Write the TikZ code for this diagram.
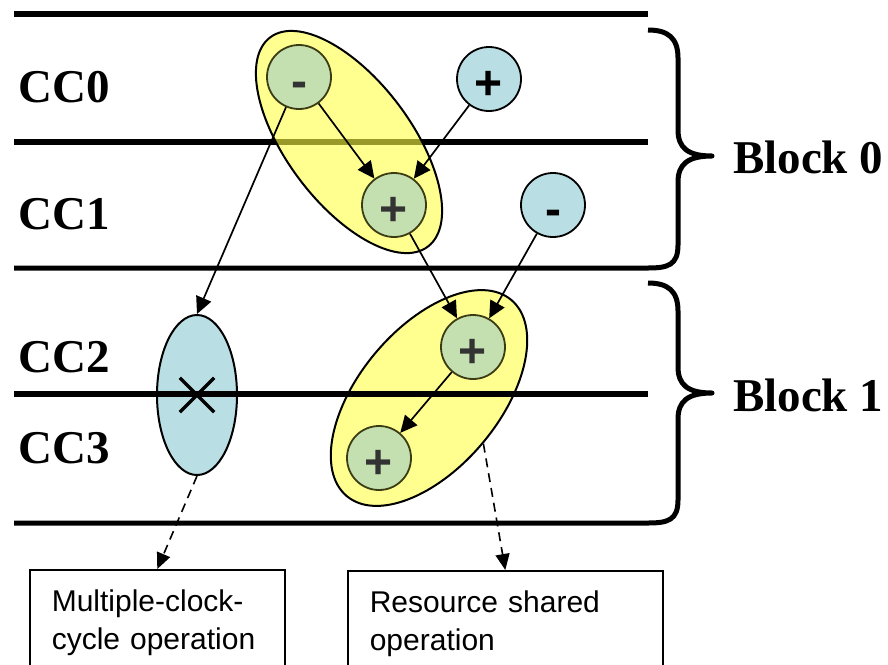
\documentclass[tikz,border=0pt]{standalone}
\usepackage{fontspec}
\setmainfont{Liberation Serif}
\newfontfamily\arialfont{Liberation Sans}
\usetikzlibrary{arrows.meta,shapes.geometric,shapes.misc}

\definecolor{opblue}{RGB}{185,223,228}
\definecolor{shareyellow}{RGB}{255,255,70}
\definecolor{opgreen}{RGB}{196,224,176}
\definecolor{olivedark}{RGB}{60,60,20}

\begin{document}
\begin{tikzpicture}[x=1pt,y=-1pt,
  rail/.style={line width=5.5pt},
  bracepath/.style={line width=5pt, line join=round},
  cclabel/.style={anchor=base west, inner sep=0pt,
    font=\fontsize{47}{50}\selectfont\bfseries},
  opnode/.style={circle, draw, line width=1.8pt, fill=opblue,
    minimum size=64pt, inner sep=0pt, text height=46pt, text depth=5pt,
    font=\arialfont\bfseries\fontsize{48}{48}\selectfont},
  sharednode/.style={opnode, fill=opgreen, draw=olivedark, text=black!80},
  sharegroup/.style={ellipse, draw, line width=2pt, fill=shareyellow,
    fill opacity=0.6, draw opacity=1, inner sep=0pt},
  multigroup/.style={ellipse, draw, line width=2pt, fill=opblue,
    inner sep=0pt, minimum width=80pt, minimum height=160pt},
  flow/.style={-{Triangle[length=17pt,width=16pt]}, line width=1.7pt},
  note/.style={-{Triangle[length=16pt,width=14pt]}, line width=1.6pt,
    dash pattern=on 9pt off 6pt},
  notebox/.style={draw, rectangle, line width=1.6pt, anchor=north west,
    align=left, inner xsep=22pt, inner ysep=20pt, text depth=80pt,
    font=\arialfont\fontsize{30}{38}\selectfont}
]
\useasboundingbox (0,0) rectangle (888,664);

% clock-cycle boundary that runs underneath the first shared group
\draw[rail] (14,142) -- (648,142);

% resource-sharing groups and the multi-cycle operation
\node[sharegroup, minimum width=262pt, minimum height=124pt, rotate=-53] (e1) at (349,142) {};
\node[sharegroup, minimum width=256pt, minimum height=140pt, rotate=50] (e2) at (429,398) {};
\node[multigroup] (mc) at (197,395) {};

% remaining cycle boundaries
\draw[rail] (14,14) -- (648,14);
\draw[rail] (14,394) -- (648,394);

% braces grouping the cycles into blocks
\draw[bracepath] (648,30) .. controls (668,30) and (678,38) .. (678,58)
  -- (678,130) .. controls (678,148) and (688,156) .. (712,156)
  .. controls (688,156) and (678,164) .. (678,182)
  -- (678,245) .. controls (678,265) and (668,268) .. (648,268) -- (14,268);
\draw[bracepath] (648,283) .. controls (668,283) and (678,291) .. (678,311)
  -- (678,367) .. controls (678,385) and (688,393) .. (712,393)
  .. controls (688,393) and (678,401) .. (678,419)
  -- (678,500) .. controls (678,520) and (668,523) .. (648,523) -- (14,523);

% multiplier mark
\node[cross out, draw, line width=3.4pt, minimum size=31pt, inner sep=0pt] (xmark) at (mc) {};

% operations
\node[sharednode] (g0m) at (299,77) {-};
\node[opnode] (b0p) at (489,79) {+};
\node[sharednode] (g1p) at (394,205) {+};
\node[opnode] (b1m) at (553,205) {-};
\node[sharednode] (g2p) at (473,347) {+};
\node[sharednode] (g3p) at (379,458) {+};

% data dependencies
\draw[flow] (g0m) -- (g1p);
\draw[flow] (b0p) -- (g1p);
\draw[flow] (g0m) -- (mc.north);
\draw[flow] (g1p) -- (g2p);
\draw[flow] (b1m) -- (g2p);
\draw[flow] (g2p) -- (g3p);

% cycle and block labels
\node[cclabel] (cc0) at (18,102) {CC0};
\node[cclabel] (cc1) at (18,229) {CC1};
\node[cclabel] (cc2) at (18,372) {CC2};
\node[cclabel] (cc3) at (18,463) {CC3};
\node[cclabel] (blk0) at (733,173) {Block 0};
\node[cclabel] (blk1) at (733,411) {Block 1};

% legend boxes
\node[notebox, text width=211pt] (box1) at (29,569) {Multiple-clock-\\cycle operation};
\node[notebox, text width=271pt] (box2) at (347,570) {Resource shared\\operation};
\draw[note] (mc.south) -- (box1.north);
\draw[note] (e2.south) -- (box2.north);
\end{tikzpicture}
\end{document}
